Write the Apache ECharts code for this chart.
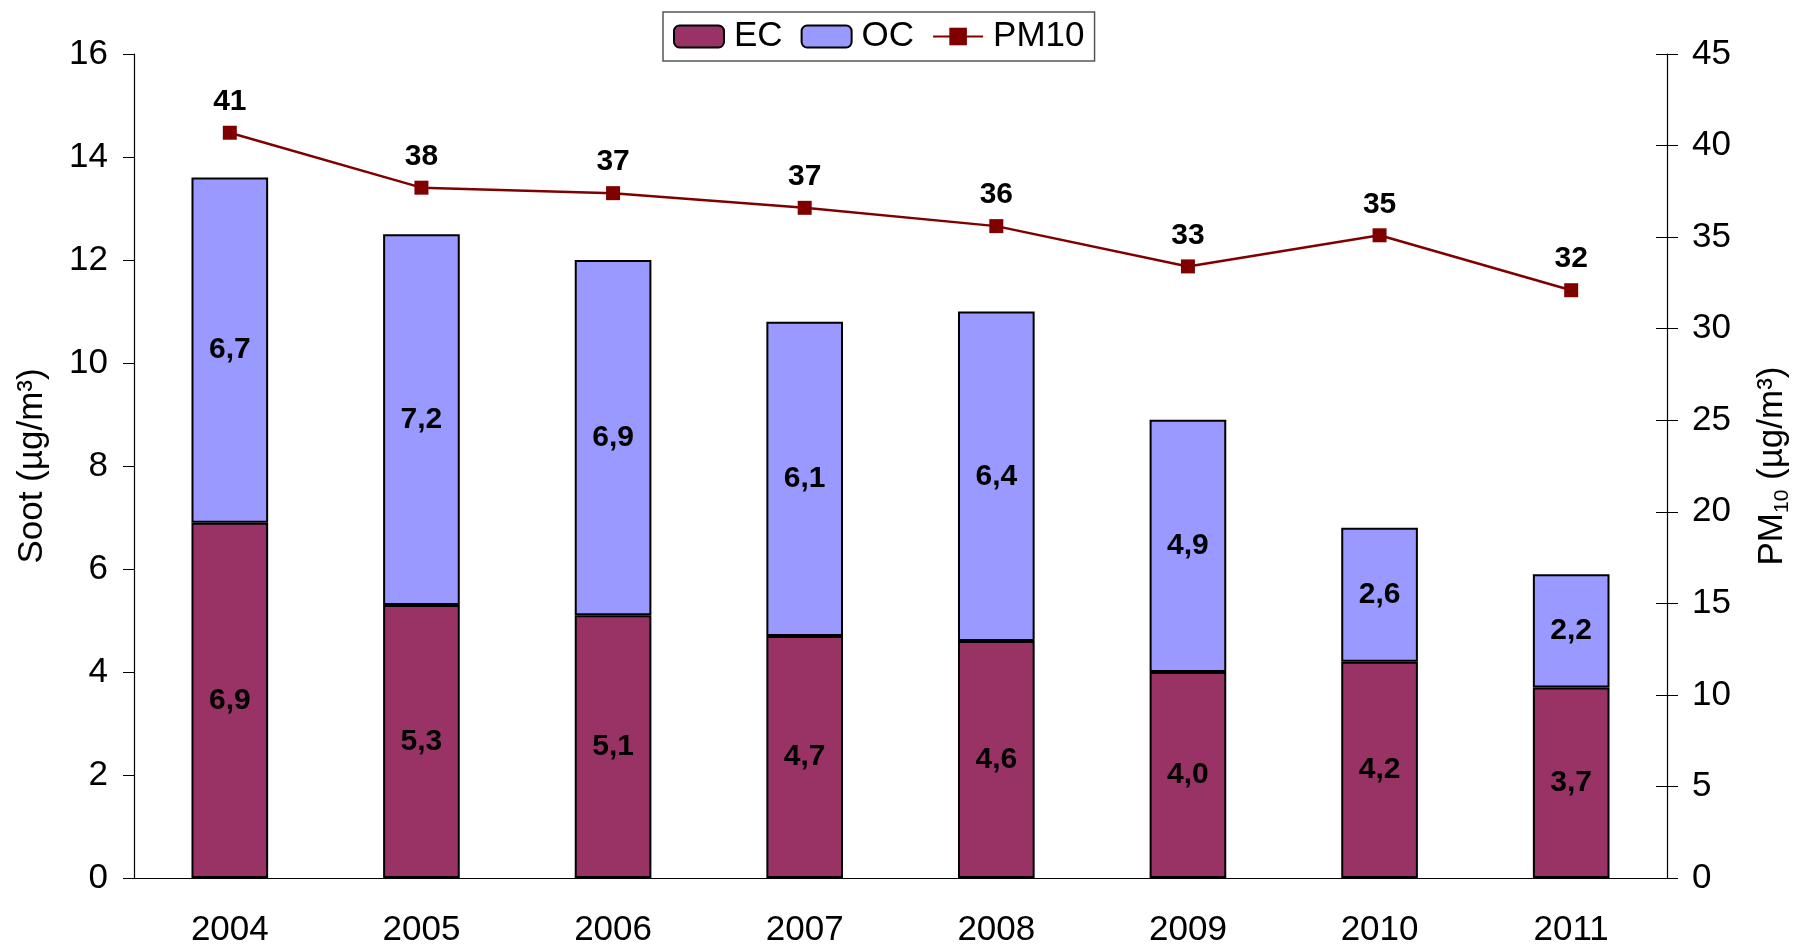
<!DOCTYPE html>
<html>
<head>
<meta charset="utf-8">
<script src="https://cdn.jsdelivr.net/npm/echarts@6/dist/echarts.min.js"></script>
<style>
  html, body { margin: 0; padding: 0; background: #fff; }
  #main { width: 1793px; height: 946px; }
</style>
</head>
<body>
<div id="main"></div>
<script>
var years = ['2004', '2005', '2006', '2007', '2008', '2009', '2010', '2011'];
var ec = [6.9, 5.3, 5.1, 4.7, 4.6, 4.0, 4.2, 3.7];
var oc = [6.7, 7.2, 6.9, 6.1, 6.4, 4.9, 2.6, 2.2];
var pm10 = [40.7, 37.7, 37.4, 36.6, 35.6, 33.4, 35.1, 32.1];

var font = 'Liberation Sans, Arial, sans-serif';

var myChart = echarts.init(document.getElementById('main'));

var option = {
    animation: false,
    backgroundColor: '#fff',
    textStyle: { fontFamily: font },
    legend: {
        left: 663,
        top: 12,
        padding: [7, 10, 7, 10],
        borderColor: '#555',
        borderWidth: 1.5,
        backgroundColor: '#fff',
        itemWidth: 50,
        itemHeight: 22,
        itemGap: 18,
        textStyle: { fontSize: 35, color: '#000', fontFamily: font, padding: [3, 0, 0, 5] },
        data: ['EC', 'OC', 'PM10']
    },
    grid: {
        left: 134,
        right: 126,
        top: 54,
        bottom: 68,
        outerBoundsMode: 'none'
    },
    xAxis: {
        type: 'category',
        data: years,
        axisLine: { lineStyle: { color: '#000', width: 1.2 } },
        axisTick: { length: 11, lineStyle: { color: '#000' } },
        axisLabel: { fontSize: 35, color: '#000', margin: 35, fontFamily: font }
    },
    yAxis: [
        {
            type: 'value',
            min: 0,
            max: 16,
            interval: 2,
            position: 'left',
            name: 'Soot (µg/m³)',
            nameLocation: 'middle',
            nameRotate: 90,
            nameGap: 84,
            nameTextStyle: { fontSize: 35, color: '#000', fontFamily: font },
            axisLine: { show: true, lineStyle: { color: '#000', width: 1.2 } },
            axisTick: { show: true, length: 11, lineStyle: { color: '#000' } },
            axisLabel: { fontSize: 35, color: '#000', margin: 26, fontFamily: font },
            splitLine: { show: false }
        },
        {
            type: 'value',
            min: 0,
            max: 45,
            interval: 5,
            position: 'right',
            name: 'PM{sub|10} (µg/m³)',
            nameLocation: 'middle',
            nameRotate: 90,
            nameGap: 84,
            nameTextStyle: {
                fontSize: 35,
                color: '#000',
                fontFamily: font,
                lineHeight: 42,
                rich: { sub: { fontSize: 21, verticalAlign: 'bottom', fontFamily: font, color: '#000' } }
            },
            axisLine: { show: true, lineStyle: { color: '#000', width: 1.2 } },
            axisTick: { show: true, length: 11, lineStyle: { color: '#000' } },
            axisLabel: { fontSize: 35, color: '#000', margin: 25, fontFamily: font },
            splitLine: { show: false }
        },
        {
            // second copy of the right axis, only for the inner half of the ticks
            type: 'value',
            min: 0,
            max: 45,
            interval: 5,
            position: 'right',
            axisLine: { show: false },
            axisTick: { show: true, inside: true, length: 11, lineStyle: { color: '#000' } },
            axisLabel: { show: false },
            splitLine: { show: false }
        }
    ],
    series: [
        {
            name: 'EC',
            type: 'bar',
            stack: 'soot',
            data: ec,
            barWidth: '40%',
            itemStyle: { color: '#993366', borderColor: '#000', borderWidth: 2 },
            label: {
                show: true,
                position: 'inside',
                fontSize: 30,
                fontWeight: 'bold',
                color: '#000',
                fontFamily: font,
                formatter: function (p) { return p.value.toFixed(1).replace('.', ','); }
            }
        },
        {
            name: 'OC',
            type: 'bar',
            stack: 'soot',
            data: oc,
            barWidth: '40%',
            itemStyle: { color: '#9999FF', borderColor: '#000', borderWidth: 2 },
            label: {
                show: true,
                position: 'inside',
                fontSize: 30,
                fontWeight: 'bold',
                color: '#000',
                fontFamily: font,
                formatter: function (p) { return p.value.toFixed(1).replace('.', ','); }
            }
        },
        {
            name: 'PM10',
            type: 'line',
            yAxisIndex: 1,
            data: pm10,
            symbol: 'rect',
            symbolSize: 14,
            lineStyle: { color: '#800000', width: 2.5 },
            itemStyle: { color: '#800000' },
            label: {
                show: true,
                position: 'top',
                distance: 9,
                fontSize: 30,
                fontWeight: 'bold',
                color: '#000',
                fontFamily: font,
                formatter: function (p) { return Math.round(p.value); }
            }
        }
    ]
};

myChart.setOption(option);
</script>
</body>
</html>
